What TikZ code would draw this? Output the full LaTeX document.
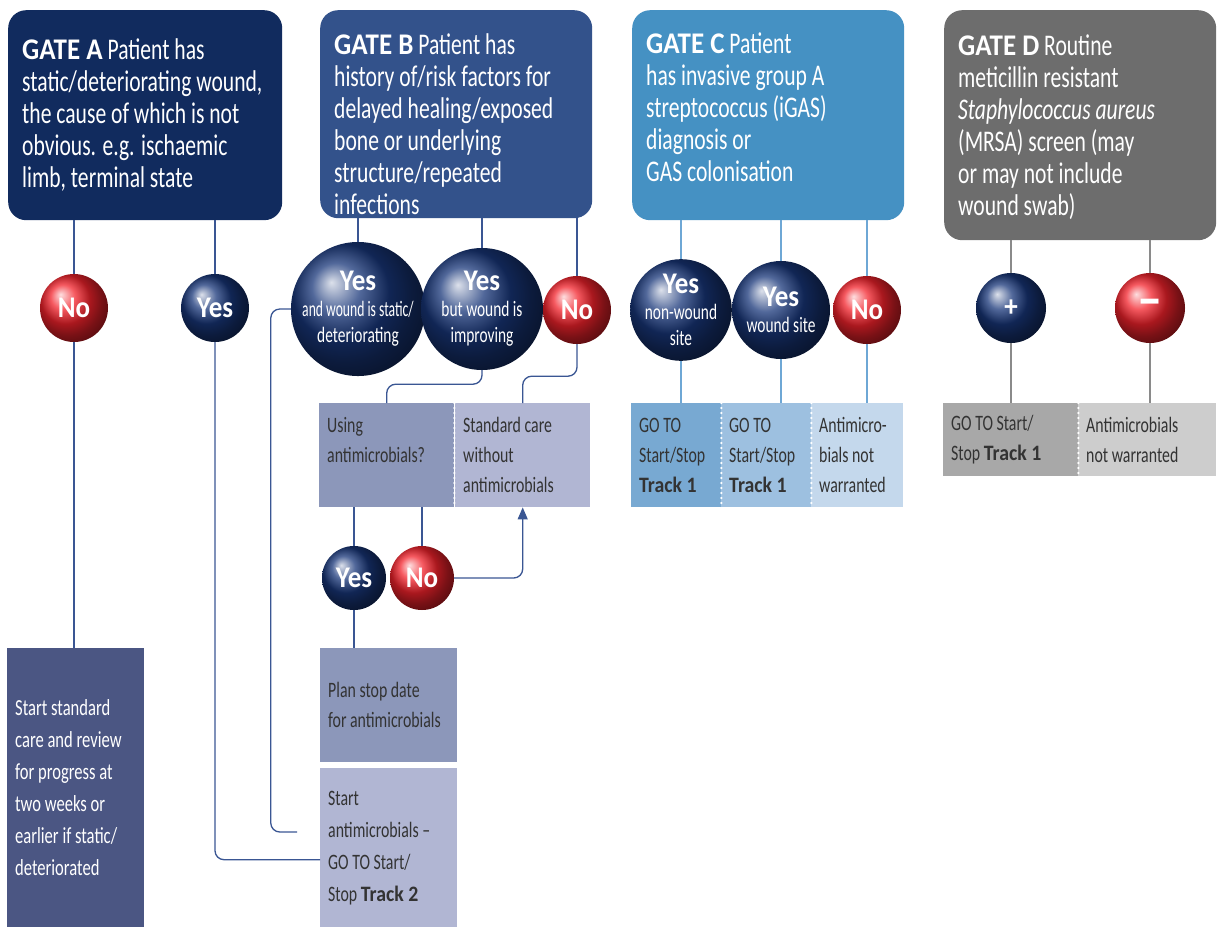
\documentclass[tikz,border=0pt]{standalone}
\usepackage{fontspec}
\setmainfont[FakeStretch=0.72]{Carlito}
\newfontfamily\headfont[FakeStretch=0.9]{Carlito}
\newfontfamily\narrowfont[FakeStretch=0.7]{Carlito}
\newfontfamily\tightfont[FakeStretch=0.62]{Carlito}
\usetikzlibrary{arrows.meta}
\definecolor{gateA}{HTML}{112B5E}
\definecolor{gateB}{HTML}{33528B}
\definecolor{gateC}{HTML}{4591C3}
\definecolor{gateD}{HTML}{6D6D6D}
\definecolor{ballNavy}{HTML}{183679}
\definecolor{ballRed}{HTML}{F2222B}
\definecolor{lineNavy}{HTML}{3A5693}
\definecolor{lineBlue}{HTML}{6EA7D5}
\definecolor{lineGray}{HTML}{8A8A8A}
\definecolor{boxDark}{HTML}{4B5683}
\definecolor{boxMid}{HTML}{8C97BA}
\definecolor{boxLight}{HTML}{B1B6D3}
\definecolor{boxC1}{HTML}{78A9D2}
\definecolor{boxC2}{HTML}{9DC0E0}
\definecolor{boxC3}{HTML}{C4D8EC}
\definecolor{boxD1}{HTML}{A8A8A8}
\definecolor{boxD2}{HTML}{CDCDCD}
\definecolor{ink}{HTML}{333333}
\newcommand{\hb}[1]{{\headfont\bfseries #1}}
\newcommand{\yn}[1]{{\headfont\bfseries\fontsize{30}{28}\selectfont #1}}
\begin{document}
\begin{tikzpicture}[x=1pt,y=-1pt,>={Triangle[width=10pt,length=12pt]},
  gate/.style={anchor=north west,rounded corners=18pt,inner xsep=14pt,text=white,font=\fontsize{30}{32}\selectfont},
  answer/.style={circle,inner sep=0pt,text=white,align=center,ball color=#1,font=\narrowfont\fontsize{22}{26}\selectfont},
  panel/.style={anchor=north west,inner xsep=8pt,inner ysep=0pt,align=flush left,text=ink,font=\fontsize{22}{30}\selectfont},
  wire/.style={line width=1.3pt,rounded corners=9pt,draw=#1},
  dots/.style={white,line width=2.5pt,line cap=round,dash pattern=on 0pt off 5pt}]
\useasboundingbox (0,0) rectangle (1218,927);
\node[gate,fill=gateA,inner ysep=28pt] (gA) at (8,10) {\parbox[t][154pt]{246pt}{\raggedright\hb{GATE A} Patient has\\static/deteriorating wound,\\the cause of which is not\\obvious. e.g. ischaemic\\limb, terminal state}};
\node[gate,fill=gateB,inner ysep=23pt] (gB) at (320,10) {\parbox[t][162pt]{244pt}{\raggedright\hb{GATE B} Patient has\\history of/risk factors for\\delayed healing/exposed\\bone or underlying\\structure/repeated\\infections}};
\node[gate,fill=gateC,inner ysep=23pt] (gC) at (632,10) {\parbox[t][164pt]{244pt}{\raggedright\hb{GATE C} Patient\\has invasive group A\\streptococcus (iGAS)\\diagnosis or\\GAS colonisation}};
\node[gate,fill=gateD,inner ysep=25pt] (gD) at (944,10) {\parbox[t][180pt]{244pt}{\raggedright\hb{GATE D} Routine\\meticillin resistant\\\textit{Staphylococcus aureus}\\(MRSA) screen (may\\or may not include\\wound swab)}};
\node[answer=ballRed,minimum size=68pt] (noA) at (74,308) {\yn{No}};
\node[answer=ballNavy,minimum size=68pt] (yesA) at (215,308) {\yn{Yes}};
\node[answer=ballNavy,minimum size=122pt] (yesB1) at (358,309) {\yn{Yes}\\{\tightfont and wound is static/}\\deteriorating};
\node[answer=ballNavy,minimum size=122pt] (yesB2) at (482,309) {\yn{Yes}\\but wound is\\improving};
\node[answer=ballRed,minimum size=68pt] (noB) at (577,310) {\yn{No}};
\node[answer=ballNavy,minimum size=98pt] (yesC1) at (681,310) {\yn{Yes}\\non-wound\\site};
\node[answer=ballNavy,minimum size=98pt] (yesC2) at (781,310) {\yn{Yes}\\wound site};
\node[answer=ballRed,minimum size=68pt] (noC) at (867,310) {\yn{No}};
\node[answer=ballNavy,minimum size=70pt] (plusD) at (1011,308) {\yn{+}};
\node[answer=ballRed,minimum size=70pt] (minusD) at (1150,308) {\yn{\fontsize{56}{52}\selectfont –}};
\node[panel,fill=boxMid,minimum width=135pt,minimum height=104pt,text width=119pt] (using) at (319,403) {Using\\antimicrobials?\\\mbox{}};
\node[panel,fill=boxLight,minimum width=135pt,minimum height=104pt,text width=119pt] (stdcare) at (455,403) {Standard care\\without\\antimicrobials};
\node[answer=ballNavy,minimum size=64pt] (yesU) at (354,578) {\yn{Yes}};
\node[answer=ballRed,minimum size=64pt] (noU) at (422,578) {\yn{No}};
\node[panel,fill=boxMid,minimum width=137pt,minimum height=114pt,text width=121pt] (plan) at (320,648) {Plan stop date\\for antimicrobials};
\node[panel,fill=boxLight,minimum width=137pt,minimum height=159pt,text width=121pt,font=\fontsize{22}{32}\selectfont] (startAnti) at (320,768) {Start\\antimicrobials –\\GO TO Start/\\Stop \hb{Track 2}};
\node[panel,fill=boxDark,text=white,minimum width=137pt,minimum height=279pt,text width=121pt,font=\fontsize{23}{32}\selectfont] (startStd) at (7,648) {Start standard\\care and review\\for progress at\\two weeks or\\earlier if static/\\deteriorated};
\node[panel,fill=boxC1,minimum width=90pt,minimum height=104pt,text width=74pt] (goC1) at (631,403) {GO TO\\Start/Stop\\\hb{Track 1}};
\node[panel,fill=boxC2,minimum width=90pt,minimum height=104pt,text width=74pt] (goC2) at (721,403) {GO TO\\Start/Stop\\\hb{Track 1}};
\node[panel,fill=boxC3,minimum width=92pt,minimum height=104pt,text width=76pt] (noneC) at (811,403) {Antimicro-\\bials not\\warranted};
\node[panel,fill=boxD1,minimum width=135pt,minimum height=73pt,text width=119pt] (goD) at (943,403) {GO TO Start/\\Stop \hb{Track 1}};
\node[panel,fill=boxD2,minimum width=138pt,minimum height=73pt,text width=122pt] (noneD) at (1078,403) {Antimicrobials\\not warranted};
\coordinate (endB1) at (297,832);
\foreach \n in {using,goC1,goC2,goD}
  \draw[dots] (\n.north east) -- (\n.south east);
\draw[wire=lineNavy] (gA.south -| noA.north) -- (noA.north);
\draw[wire=lineNavy] (noA.south) -- (noA.south |- startStd.north);
\draw[wire=lineNavy] (gA.south -| yesA.north) -- (yesA.north);
\draw[wire=lineNavy] (yesA.south) |- ([yshift=-12pt]startAnti.west);
\draw[wire=lineNavy] (gB.south -| yesB1.north) -- (yesB1.north);
\draw[wire=lineNavy] (yesB1.west) -- ++(-20,0) |- (endB1);
\draw[wire=lineNavy] (gB.south -| yesB2.north) -- (yesB2.north);
\draw[wire=lineNavy] (yesB2.south) -- ++(0,14) -| (using.north);
\draw[wire=lineNavy] (gB.south -| noB.north) -- (noB.north);
\draw[wire=lineNavy] (noB.south) -- ++(0,32) -| (stdcare.north);
\draw[wire=lineNavy] (using.south -| yesU.north) -- (yesU.north);
\draw[wire=lineNavy] (using.south -| noU.north) -- (noU.north);
\draw[wire=lineNavy,->] (noU.east) -| (stdcare.south);
\draw[wire=lineNavy] (yesU.south) -- (yesU.south |- plan.north);
\foreach \n/\m in {yesC1/goC1,yesC2/goC2,noC/noneC}{
  \draw[wire=lineBlue] (gC.south -| \n.north) -- (\n.north);
  \draw[wire=lineBlue] (\n.south) -- (\n.south |- \m.north);}
\foreach \n/\m in {plusD/goD,minusD/noneD}{
  \draw[wire=lineGray] (gD.south -| \n.north) -- (\n.north);
  \draw[wire=lineGray] (\n.south) -- (\n.south |- \m.north);}
\end{tikzpicture}
\end{document}
